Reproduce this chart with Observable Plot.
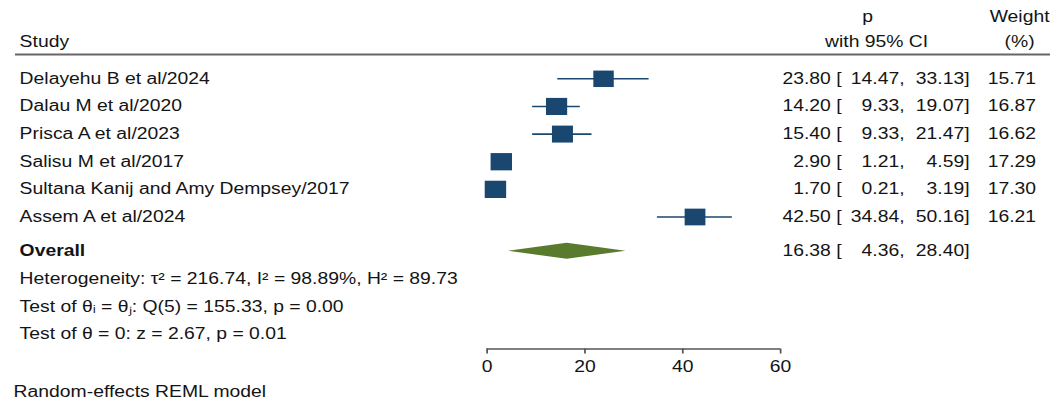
<!DOCTYPE html>
<html><head><meta charset="utf-8">
<script src="https://cdn.jsdelivr.net/npm/d3@7"></script>
<script src="https://cdn.jsdelivr.net/npm/@observablehq/plot@0.6"></script>
<style>
html,body{margin:0;padding:0;background:#fff;}
#chart svg{display:block;}
</style></head><body><div id="chart"></div>
<script>
// ---- data ----
const studies = ["Delayehu B et al/2024","Dalau M et al/2020","Prisca A et al/2023","Salisu M et al/2017","Sultana Kanij and Amy Dempsey/2017","Assem A et al/2024"];
const estimates = [23.80, 14.20, 15.40, 2.90, 1.70, 42.50];
const lower = [14.47, 9.33, 9.33, 1.21, 0.21, 34.84];
const upper = [33.13, 19.07, 21.47, 4.59, 3.19, 50.16];
const weights = [15.71, 16.87, 16.62, 17.29, 17.30, 16.21];
const overallLabel = "Overall";
const overallEst = 16.38, overallLo = 4.36, overallHi = 28.40;
const statsLines = ["Heterogeneity: τ² = 216.74, I² = 98.89%, H² = 89.73", "Test of θᵢ = θⱼ: Q(5) = 155.33, p = 0.00", "Test of θ = 0: z = 2.67, p = 0.01"];
const xTicks = [0, 20, 40, 60];
const xDomain = [0, 60];
const modelNote = "Random-effects REML model";

// ---- layout ----
const W = 1051, H = 403, S = 1.24;          // horizontal stretch of the original figure
const w = W / S;
const x0Ref = 486.5, x60Ref = 780;
const mL = x0Ref / S, mR = (W - x60Ref) / S;
const dxRef = ref => (ref - x0Ref) / S;      // offset from frame left in svg units
const rowStep = 27.64, row1Px = 78.3;
const rowOf = p => 1 + (p - row1Px) / rowStep;
const yAxisRow = rowOf(348.5);
const overallRow = 7.24;
const statsRow0 = 8.24;
const FS = 15.6;
const navy = "#1a476f", olive = "#5a7a2e", ink = "#141414", axisGray = "#555";
const font = "'Liberation Sans', Arial, Helvetica, sans-serif";

const idx = studies.map((_, i) => i);
const rowY = i => i + 1;
const fmt = v => v.toFixed(2);
const diamond = [
  {x: overallLo, y1: overallRow, y2: overallRow},
  {x: overallEst, y1: overallRow - 0.29, y2: overallRow + 0.29},
  {x: overallHi, y1: overallRow, y2: overallRow}
];
const rightRows = [...idx.map(i => ({y: rowY(i), a: fmt(estimates[i]) + " [", b: fmt(lower[i]) + ",", c: fmt(upper[i]) + "]", wt: fmt(weights[i])})),
  {y: overallRow, a: fmt(overallEst) + " [", b: fmt(overallLo) + ",", c: fmt(overallHi) + "]", wt: ""}];

const txt = (data, opts) => Plot.text(data, {frameAnchor: "left", fontSize: FS, fill: ink, ...opts});

const chart = Plot.plot({
  width: w, height: H,
  marginLeft: mL, marginRight: mR,
  marginTop: row1Px - rowStep, marginBottom: H - 348.5,
  style: {fontFamily: font, fontSize: FS + "px", color: ink, background: "#fff", overflow: "visible"},
  x: {domain: xDomain, axis: null},
  y: {domain: [0, yAxisRow], reverse: true, axis: null},
  r: {type: "sqrt", domain: [0, d3.max(weights)], range: [0, 9.76]},
  marks: [
    // header
    Plot.ruleY([rowOf(54)], {stroke: "#666", strokeWidth: 2.2, insetLeft: -(x0Ref - 15) / S, insetRight: -(1050 - x60Ref) / S}),
    txt(["Study"], {y: rowOf(42), dx: dxRef(19), textAnchor: "start"}),
    txt(["p"], {y: rowOf(17), dx: dxRef(867), textAnchor: "middle"}),
    txt(["with 95% CI"], {y: rowOf(42), dx: dxRef(876), textAnchor: "middle"}),
    txt(["Weight"], {y: rowOf(17), dx: dxRef(1019), textAnchor: "middle"}),
    txt(["(%)"], {y: rowOf(42), dx: dxRef(1019), textAnchor: "middle"}),
    // study labels
    txt(idx, {y: rowY, text: i => studies[i], dx: dxRef(19), textAnchor: "start"}),
    txt([overallLabel], {y: overallRow, dx: dxRef(19), textAnchor: "start", fontWeight: "bold"}),
    txt(statsLines, {y: (d, i) => statsRow0 + i, dx: dxRef(19), textAnchor: "start"}),
    // CIs and squares
    Plot.ruleY(idx, {y: rowY, x1: i => lower[i], x2: i => upper[i], stroke: navy, strokeWidth: 1.6}),
    Plot.dot(idx, {x: i => estimates[i], y: rowY, r: i => weights[i], symbol: "square", fill: navy, stroke: "none"}),
    // overall diamond
    Plot.area(diamond, {x1: "x", y1: "y1", y2: "y2", fill: olive}),
    // right columns
    txt(rightRows, {y: "y", text: "a", dx: dxRef(841), textAnchor: "end"}),
    txt(rightRows, {y: "y", text: "b", dx: dxRef(904), textAnchor: "end"}),
    txt(rightRows, {y: "y", text: "c", dx: dxRef(969), textAnchor: "end"}),
    txt(rightRows, {y: "y", text: "wt", dx: dxRef(1035.5), textAnchor: "end"}),
    // x axis
    Plot.ruleY([yAxisRow], {x1: xDomain[0], x2: xDomain[1], stroke: axisGray, strokeWidth: 1.6}),
    Plot.axisX(xTicks, {anchor: "bottom", tickSize: 5, tickPadding: 7, stroke: axisGray, strokeWidth: 1.4, fontSize: FS, fill: ink, label: null}),
    // note
    txt([modelNote], {y: rowOf(392), dx: dxRef(13), textAnchor: "start"})
  ]
});
chart.setAttribute("width", W);
chart.setAttribute("height", H);
chart.setAttribute("preserveAspectRatio", "none");
chart.style.width = W + "px";
chart.style.height = H + "px";
chart.style.maxWidth = "none";
document.getElementById("chart").append(chart);
</script>
</body></html>
